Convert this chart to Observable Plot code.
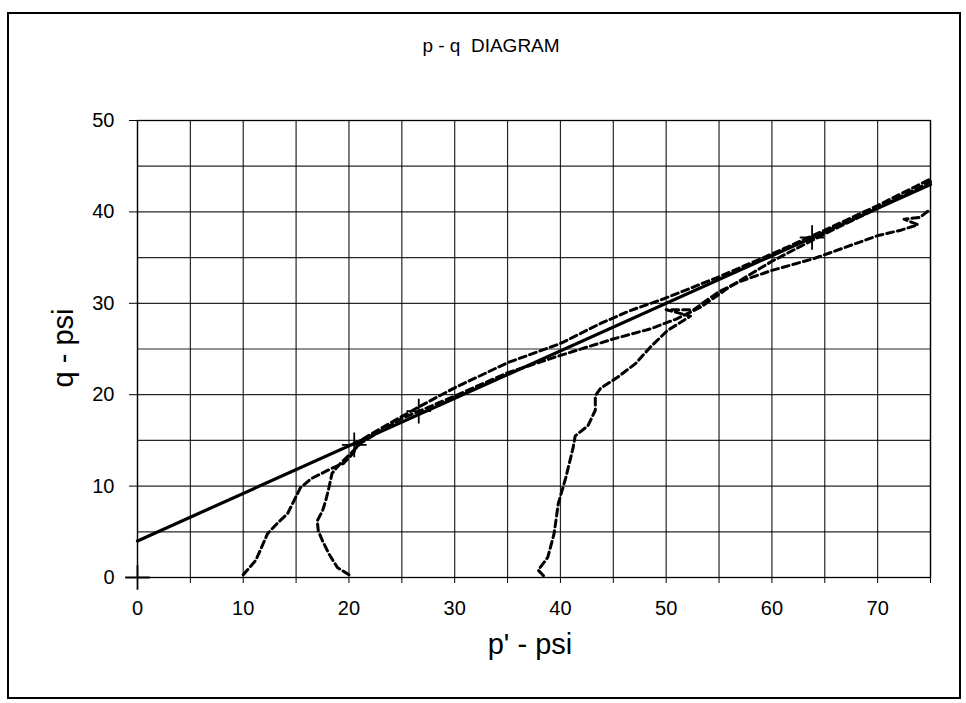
<!DOCTYPE html>
<html>
<head>
<meta charset="utf-8">
<script src="https://cdn.jsdelivr.net/npm/d3@7"></script>
<script src="https://cdn.jsdelivr.net/npm/@observablehq/plot@0.6"></script>
<style>
  html, body { margin: 0; padding: 0; background: #fff; }
  #wrap { position: relative; width: 966px; height: 703px; overflow: hidden; font-family: "Liberation Sans", Arial, sans-serif; }
  #border { position: absolute; left: 7px; top: 12px; width: 950px; height: 683px; border: 2px solid #000; box-sizing: content-box; }
  #title { position: absolute; left: 0; width: 982px; top: 35px; text-align: center; font-size: 19px; color: #000; }
  #xlabel { position: absolute; left: 0; width: 1060px; top: 628px; text-align: center; font-size: 29px; color: #000; }
  #ylabel { position: absolute; left: 63px; top: 348px; transform: translate(-50%, -50%) rotate(-90deg); font-size: 29px; color: #000; white-space: nowrap; }
  #chart { position: absolute; left: 0; top: 0; }
  #chart svg text { font-size: 20px; }
</style>
</head>
<body>
<div id="wrap">
  <div id="border"></div>
  <div id="chart"></div>
  <div id="title">p - q&nbsp; DIAGRAM</div>
  <div id="xlabel">p' - psi</div>
  <div id="ylabel">q - psi</div>
</div>
<script>
// Axis ticks
const xGrid = [0,5,10,15,20,25,30,35,40,45,50,55,60,65,70,75];
const yGrid = [0,5,10,15,20,25,30,35,40,45,50];
const xTickLabels = [0,10,20,30,40,50,60,70];
const yTickLabels = [0,10,20,30,40,50];

// Failure envelope (fitted line)
const fitP = [0, 75];
const fitQ = [4, 43];

// Marked points (+)
const markP = [0, 20.5, 26.6, 63.8];
const markQ = [0, 14.5, 18.2, 37.2];

// Stress path A (starts at p'=10)
const pathAp = [10,11.2,12.3,13.2,14.2,14.8,15.4,16.4,18.3,19.5,20.4,21.1,23,26.5,29.9,35,40,43.8,46.6,49.8,55,60,65,70,75];
const pathAq = [0.3,1.9,4.8,5.9,7,8.4,9.8,10.8,11.9,12.5,13.6,15,16.3,18.6,20.7,23.5,25.6,27.8,29.2,30.5,32.9,35.4,38,40.7,43.6];

// Stress path B (starts at p'=20)
const pathBp = [20,18.9,18.1,17.5,17.1,17,17.5,17.8,18.1,18.4,19.2,20.2,21.1,25,29.9,35,40,45,48.5,51,53.3,56,60,65,70,75];
const pathBq = [0.3,1.1,2.6,4,5.1,6.2,7.3,8.4,9.8,11.4,12.5,13.6,14.7,17.4,19.8,22.4,24.3,26.1,27.2,28.3,29.6,31.8,34.6,37.6,40.4,43.3];

// Stress path C (starts at p'=38.5)
const pathCp = [38.4,37.9,38.8,39.4,39.8,40.5,41.2,41.4,42.6,43.3,43.3,43.8,45.4,47.1,48.5,50.1,52.3,50,52.6,54.9,57,60,64,70,72.2,73.8,72.5,74,75];
const pathCq = [0.2,0.8,2.2,4.8,8.1,10.9,14.2,15.5,16.6,18.3,19.9,20.7,21.9,23.4,25.2,27,28.6,29.3,29.3,31.2,32.4,33.6,34.9,37.4,38,38.6,39.2,39.4,40.3];

const toRows = (ps, qs) => ps.map((p, i) => ({p, q: qs[i]}));
const fit = toRows(fitP, fitQ);
const marks = toRows(markP, markQ);
const A = toRows(pathAp, pathAq);
const B = toRows(pathBp, pathBq);
const C = toRows(pathCp, pathCq);

const dashed = {x: "p", y: "q", stroke: "#000", strokeWidth: 3, strokeDasharray: "7,4", curve: "linear"};

const chart = Plot.plot({
  width: 966,
  height: 703,
  marginLeft: 137,
  marginRight: 36,
  marginTop: 120,
  marginBottom: 126,
  x: {domain: [0, 75]},
  y: {domain: [0, 50]},
  style: {fontFamily: "'Liberation Sans', Arial, sans-serif", fontSize: "20px", color: "#000", background: "transparent"},
  marks: [
    Plot.gridX(xGrid, {stroke: "#000", strokeOpacity: 0.85, strokeWidth: 1.2}),
    Plot.gridY(yGrid, {stroke: "#000", strokeOpacity: 0.85, strokeWidth: 1.2}),
    Plot.frame({stroke: "#000", strokeWidth: 1.3}),
    Plot.axisX({ticks: xGrid, tickSize: 6, tickFormat: () => "", label: null}),
    Plot.axisX({ticks: xTickLabels, tickSize: 0, tickPadding: 23, label: null, fontSize: 20}),
    Plot.axisY({ticks: yTickLabels, tickSize: 8, tickPadding: 15, label: null, fontSize: 20}),
    Plot.line(fit, {x: "p", y: "q", stroke: "#000", strokeWidth: 3.2}),
    Plot.line(A, dashed),
    Plot.line(B, dashed),
    Plot.line(C, dashed),
    Plot.dot(marks, {x: "p", y: "q", symbol: "plus", r: 8, stroke: "#000", strokeWidth: 1.8})
  ]
});
document.getElementById("chart").appendChild(chart);
</script>
</body>
</html>
